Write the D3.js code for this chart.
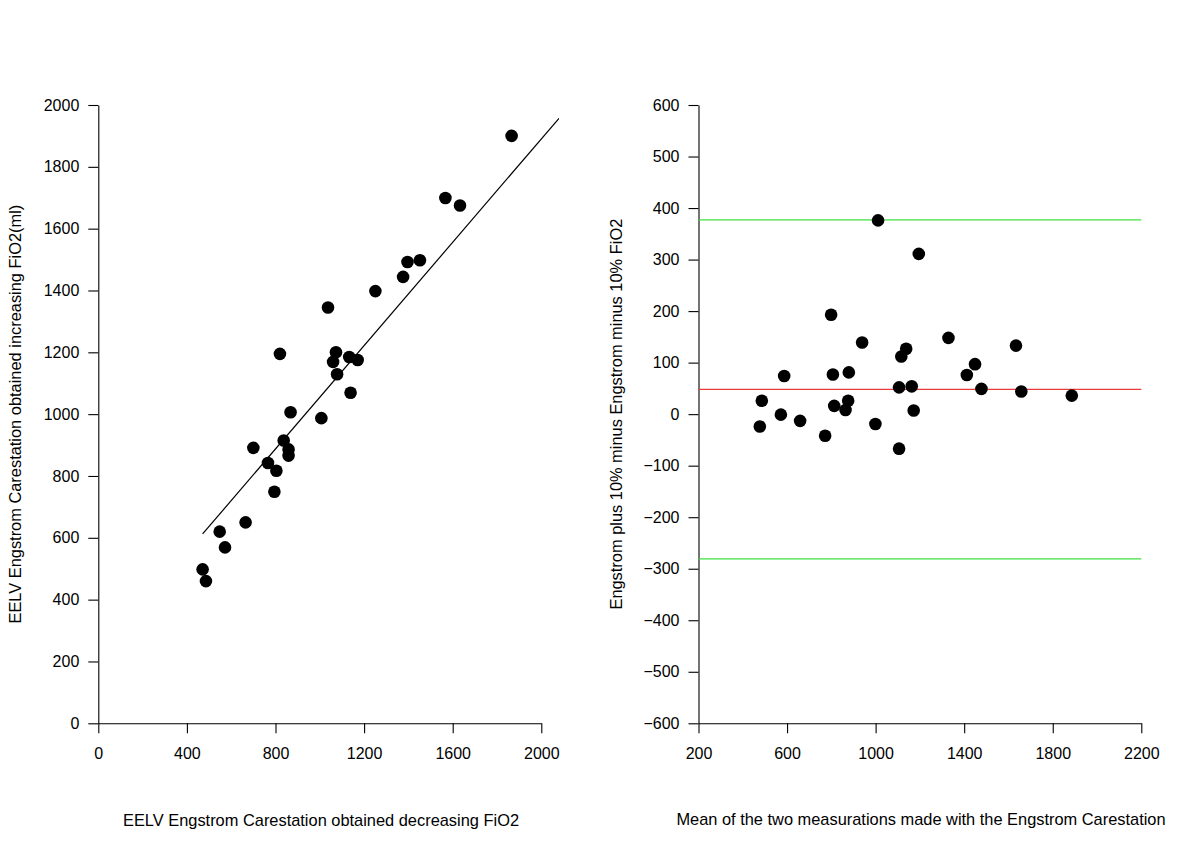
<!DOCTYPE html>
<html>
<head>
<meta charset="utf-8">
<script src="https://cdn.jsdelivr.net/npm/d3@7"></script>
<style>
  html, body { margin: 0; padding: 0; background: #fff; }
  svg { display: block; font-family: "Liberation Sans", Arial, Helvetica, sans-serif; }
</style>
</head>
<body>
<svg id="chart" width="1200" height="849"></svg>
<script>
// ---------- Data ----------
// Left panel: decreasing FiO2 (x) vs increasing FiO2 (y)
const leftX = [1037, 820, 1073, 1060, 1133, 1171, 1078, 1139, 868, 1007, 837, 859, 859, 700, 766, 804, 795, 665, 548, 572, 471, 486, 1866, 1567, 1633, 1396, 1452, 1376, 1251];
const leftY = [1345, 1195, 1200, 1169, 1185, 1175, 1129, 1069, 1006, 987, 915, 886, 866, 891, 842, 817, 749, 650, 620, 569, 498, 460, 1900, 1699, 1675, 1492, 1498, 1444, 1398];
// Regression line: intercept, slope, and x extent
const fitIntercept = 219;
const fitSlope = 0.8356;
const fitXRange = [471, 2080];
const leftXTicks = [0, 400, 800, 1200, 1600, 2000];
const leftYTicks = [0, 200, 400, 600, 800, 1000, 1200, 1400, 1600, 1800, 2000];

// Right panel: Bland-Altman (mean vs difference)
const rightX = [1011, 1195, 799, 939, 1138, 1116, 587, 807, 879, 1106, 1163, 486, 876, 813, 864, 572, 1172, 477, 659, 999, 772, 1106, 1329, 1634, 1449, 1412, 1478, 1658, 1886];
const rightY = [376, 311, 193, 139, 127, 112, 74, 77, 81, 52, 54, 26, 26, 16, 8, -1, 7, -24, -13, -19, -42, -67, 148, 133, 97, 76, 49, 44, 36];
const meanDiff = 48;
const upperLimit = 377;
const lowerLimit = -281;
const rightXTicks = [200, 600, 1000, 1400, 1800, 2200];
const rightYTicks = [-600, -500, -400, -300, -200, -100, 0, 100, 200, 300, 400, 500, 600];

const leftXLabel = "EELV Engstrom Carestation obtained decreasing FiO2";
const leftYLabel = "EELV Engstrom Carestation obtained increasing FiO2(ml)";
const rightXLabel = "Mean of the two measurations made with the Engstrom Carestation";
const rightYLabel = "Engstrom plus 10% minus Engstrom minus 10% FiO2";

// ---------- Drawing ----------
const svg = d3.select("#chart");
const fmt = v => (v < 0 ? "\u2212" + Math.abs(v) : String(v));
const tickFont = 16, titleFont = 16.4, ptR = 6.3;

function drawAxes(g, x, y, xTicks, yTicks, xAt, yAt) {
  const xa = d3.axisBottom(x).tickValues(xTicks).tickSizeInner(10).tickSizeOuter(0).tickPadding(14).tickFormat(fmt);
  const ya = d3.axisLeft(y).tickValues(yTicks).tickSizeInner(10).tickSizeOuter(0).tickPadding(9).tickFormat(fmt);
  const gx = g.append("g").attr("transform", `translate(0,${y(xAt)})`).call(xa);
  const gy = g.append("g").attr("transform", `translate(${x(yAt)},0)`).call(ya);
  [gx, gy].forEach(a => {
    a.attr("font-size", null).attr("font-family", null);
    a.selectAll(".domain").attr("stroke", "#000").attr("stroke-width", 1.1);
    a.selectAll(".tick line").attr("stroke", "#000").attr("stroke-width", 1.1);
    a.selectAll(".tick text").attr("fill", "#000").style("font-size", tickFont + "px");
  });
  return [gx, gy];
}

// Left panel
{
  const x = d3.scaleLinear().domain([0, 2000]).range([98.3, 541.3]);
  const y = d3.scaleLinear().domain([0, 2000]).range([723.3, 105]);
  const g = svg.append("g");
  g.append("clipPath").attr("id", "clipL").append("rect")
    .attr("x", x(-80)).attr("y", y(2080)).attr("width", x(2080) - x(-80)).attr("height", y(-80) - y(2080));
  drawAxes(g, x, y, leftXTicks, leftYTicks, 0, 0);
  // regression line
  const line = d3.line().x(d => x(d)).y(d => y(fitIntercept + fitSlope * d));
  g.append("path").datum(fitXRange).attr("d", line).attr("clip-path", "url(#clipL)")
    .attr("fill", "none").attr("stroke", "#000").attr("stroke-width", 1.2);
  g.selectAll("circle.pt").data(leftX.map((v, i) => [v, leftY[i]])).join("circle")
    .attr("class", "pt").attr("cx", d => x(d[0])).attr("cy", d => y(d[1])).attr("r", ptR).attr("fill", "#000");
  g.append("text").attr("x", 321).attr("y", 825.5).attr("text-anchor", "middle")
    .style("font-size", titleFont + "px").text(leftXLabel);
  g.append("text").attr("transform", `translate(21,${(y(0) + y(2000)) / 2}) rotate(-90)`).attr("text-anchor", "middle")
    .style("font-size", titleFont + "px").text(leftYLabel);
}

// Right panel
{
  const x = d3.scaleLinear().domain([200, 2200]).range([698.5, 1141.3]);
  const y = d3.scaleLinear().domain([-600, 600]).range([723.3, 105]);
  const g = svg.append("g");
  drawAxes(g, x, y, rightXTicks, rightYTicks, -600, 200);
  const hl = [[upperLimit, "#3ee03e"], [meanDiff, "#ea3b3b"], [lowerLimit, "#3ee03e"]];
  g.selectAll("line.ref").data(hl).join("line").attr("class", "ref")
    .attr("x1", x(200)).attr("x2", x(2200)).attr("y1", d => y(d[0])).attr("y2", d => y(d[0]))
    .attr("stroke", d => d[1]).attr("stroke-width", 1.3);
  g.selectAll("circle.pt").data(rightX.map((v, i) => [v, rightY[i]])).join("circle")
    .attr("class", "pt").attr("cx", d => x(d[0])).attr("cy", d => y(d[1])).attr("r", ptR).attr("fill", "#000");
  g.append("text").attr("x", 921).attr("y", 824.5).attr("text-anchor", "middle")
    .style("font-size", titleFont + "px").text(rightXLabel);
  g.append("text").attr("transform", `translate(622,${(y(-600) + y(600)) / 2}) rotate(-90)`).attr("text-anchor", "middle")
    .style("font-size", titleFont + "px").text(rightYLabel);
}
</script>
</body>
</html>
